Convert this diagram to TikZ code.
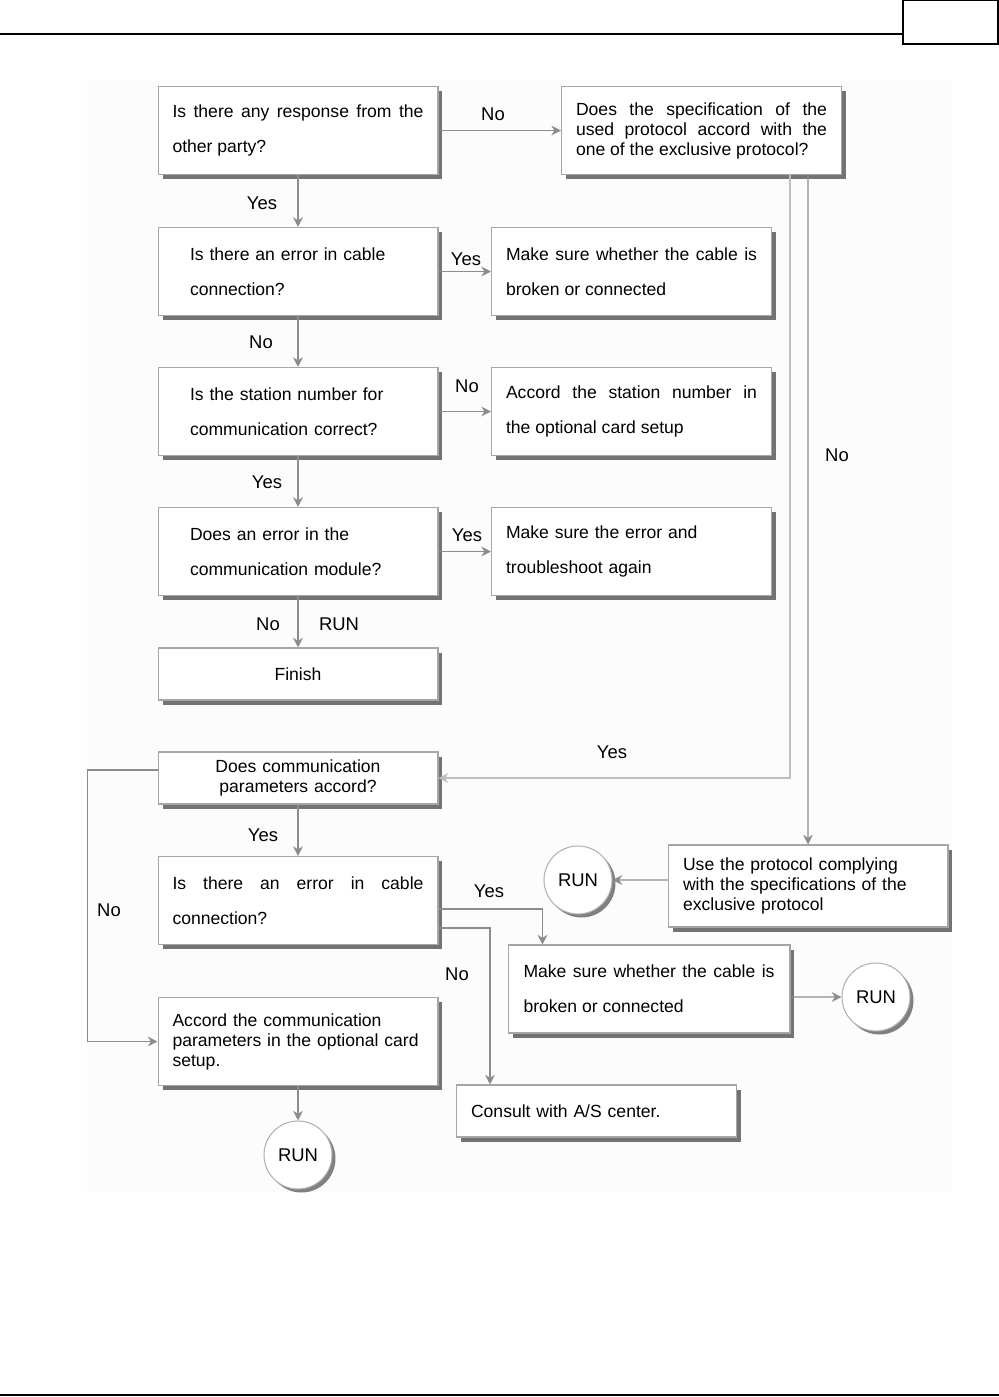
\documentclass[tikz,border=0pt]{standalone}
\usepackage{fontspec}
\setmainfont{Liberation Sans}
\usetikzlibrary{arrows.meta,shadows,positioning}
\hyphenpenalty=10000
\exhyphenpenalty=10000
\tolerance=9999

\begin{document}
\begin{tikzpicture}[x=0.02cm, y=-0.02cm,
  tbox/.style={rectangle, draw=black!35, line width=0.6pt, fill=white,
    minimum width=5.6cm, minimum height=1.76cm, inner sep=0pt,
    text width=5.02cm, align=justify,
    font=\fontsize{10}{19.9}\selectfont,
    drop shadow={opacity=1, fill=black!55, shadow xshift=0.09cm, shadow yshift=-0.09cm}},
  qbox/.style={tbox, text width=4.32cm, align=left},
  sbox/.style={tbox, font=\fontsize{10}{11.4}\selectfont},
  lowbox/.style={tbox, minimum height=1.04cm},
  runnode/.style={circle, draw=black!30, line width=0.6pt, fill=white,
    minimum size=1.36cm, inner sep=0pt, font=\fontsize{10.5}{12}\selectfont,
    drop shadow={opacity=1, fill=black!50, shadow xshift=0.07cm, shadow yshift=-0.07cm}},
  arr/.style={-{Stealth[length=5.5pt, width=5.5pt]}, draw=black!45, line width=0.8pt},
  thinarr/.style={arr, draw=black!25, line width=0.6pt},
  lbl/.style={font=\fontsize{10.5}{12}\selectfont, inner sep=0pt}
]
\useasboundingbox (0,0) rectangle (999,1397);
% page frame
\fill[black!1] (87,80) rectangle (951,1192);
\draw[line width=0.7pt] (0,34) -- (903,34);
\draw[line width=0.7pt] (903,0) rectangle (998,44);
\draw[line width=0.7pt] (0,1395) -- (999,1395);

% first check
\node[tbox] (q1) at (298,130.5) {Is there any response from the other party?};
\node[sbox] (p1) at (701.5,130.5) {Does the specification of the used protocol accord with the one of the exclusive protocol?};
\node[qbox] (q2) at (298,271.5) {Is there an error in cable\\connection?};
\node[tbox] (a2) at (631.5,271.5) {Make sure whether the cable is broken or connected};
\node[qbox] (q3) at (298,411.5) {Is the station number for\\communication correct?};
\node[tbox] (a3) at (631.5,411.5) {Accord the station number in\linebreak the optional card setup};
\node[qbox] (q4) at (298,551.5) {Does an error in the\\communication module?};
\node[tbox, align=left] (a4) at (631.5,551.5) {Make sure the error and\\troubleshoot again};
\node[lowbox, align=center] (fin) at (298,674) {Finish};

% protocol branch
\node[lowbox, align=center, font=\fontsize{10}{11.4}\selectfont] (c1) at (298,778) {Does communication\\parameters accord?};
\node[tbox] (c2) at (298,900.5) {Is there an error in cable connection?};
\node[sbox, align=left, text width=5.0cm, minimum height=1.64cm] (up) at (808,886) {Use the protocol complying\\with the specifications of the\\exclusive protocol};
\node[tbox, minimum width=5.64cm] (mk) at (649,989) {Make sure whether the cable is broken or connected};
\node[sbox, align=left] (acc) at (298,1041.5) {Accord the communication\\parameters in the optional card\\setup.};
\node[lowbox, align=left] (cons) at (596.5,1111) {Consult with A/S center.};
\node[runnode] (r1) at (578,880) {RUN};
\node[runnode] (r2) at (876,997) {RUN};
\node[runnode] (r3) at (298,1155) {RUN};

% connectors
\draw[arr] (q1) -- (p1);
\draw[arr] (q1) -- (q2);
\draw[arr] (q2) -- (a2);
\draw[arr] (q2) -- (q3);
\draw[arr] (q3) -- (a3);
\draw[arr] (q3) -- (q4);
\draw[arr] (q4) -- (a4);
\draw[arr] (q4) -- (fin);
\draw[thinarr] ([xshift=-1.04cm]p1.south east) |- (c1.east);
\draw[arr] ([xshift=-0.68cm]p1.south east) -- (up.north);
\draw[arr] (c1) -- (c2);
\draw[arr] ([yshift=0.16cm]c1.west) -| ++(-1.4cm,0) |- (acc.west);
\draw[arr] ([yshift=-0.17cm]c2.east) -| ([xshift=0.7cm]mk.north west);
\draw[arr] ([yshift=-0.55cm]c2.east) -| ([xshift=0.68cm]cons.north west);
\draw[arr] ([yshift=0.12cm]up.west) -- (r1.east);
\draw[arr] ([yshift=-0.16cm]mk.east) -- (r2.west);
\draw[arr] (acc) -- (r3);

% labels
\node[lbl] (l1) at (493,114) {No};
\node[lbl] (l2) at (262,203) {Yes};
\node[lbl] (l3) at (466,259) {Yes};
\node[lbl] (l4) at (261,342) {No};
\node[lbl] (l5) at (467,386) {No};
\node[lbl] (l6) at (267,482) {Yes};
\node[lbl] (l7) at (467,535) {Yes};
\node[lbl] (l8) at (268,624) {No};
\node[lbl] (l9) at (339,624) {RUN};
\node[lbl] (l10) at (612,752) {Yes};
\node[lbl] (l11) at (837,455) {No};
\node[lbl] (l12) at (263,835) {Yes};
\node[lbl] (l13) at (109,910) {No};
\node[lbl] (l14) at (489,891) {Yes};
\node[lbl] (l15) at (457,974) {No};
\end{tikzpicture}
\end{document}
